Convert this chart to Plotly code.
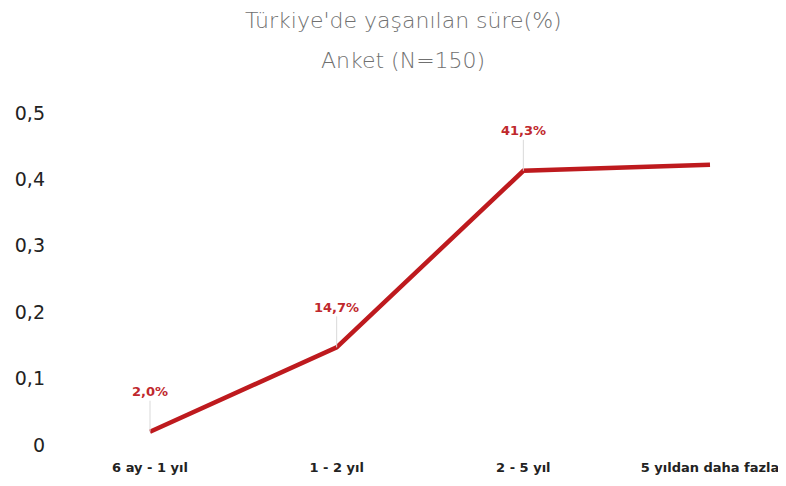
import plotly.graph_objects as go

# Veri
kategoriler = ["6 ay - 1 yıl", "1 - 2 yıl", "2 - 5 yıl", "5 yıldan daha fazla"]
oranlar = [0.020, 0.147, 0.413, 0.422]
etiketler = ["2,0%", "14,7%", "41,3%", ""]
y_ticks = [0, 0.1, 0.2, 0.3, 0.4, 0.5]
y_tick_text = ["0", "0,1", "0,2", "0,3", "0,4", "0,5"]

KIRMIZI = "#BE1A1E"
FONT = "DejaVu Sans"

fig = go.Figure()
fig.add_trace(go.Scatter(
    x=list(range(len(kategoriler))),
    y=oranlar,
    mode="lines",
    line=dict(color=KIRMIZI, width=4.5),
    hoverinfo="skip",
))

# veri etiketleri (ince gri kılavuz çizgisiyle)
for i, (v, t) in enumerate(zip(oranlar, etiketler)):
    if not t:
        continue
    fig.add_annotation(
        x=i, y=v, text="<b>" + t + "</b>",
        showarrow=True, arrowhead=0, arrowwidth=1, arrowcolor="#d9d9d9",
        ax=0, ay=-40,
        font=dict(family=FONT, size=13, color="#C0282D"),
    )

# başlık (iki satır, aralık geniş)
T = 105
for satir, yc in [("Türkiye'de yaşanılan süre(%)", 12), ("Anket (N=150)", 52)]:
    fig.add_annotation(text=satir, xref="paper", yref="paper",
                       x=0.471, y=1, yanchor="middle", showarrow=False,
                       yshift=T - yc,
                       font=dict(family=FONT, size=22, color="#707070", weight=300))

fig.update_layout(
    width=786, height=486,
    margin=dict(l=47, r=0, t=T, b=49),
    plot_bgcolor="white", paper_bgcolor="white",
    showlegend=False,
    font=dict(family=FONT),
    xaxis=dict(
        range=[-0.509, 3.450],
        tickmode="array",
        tickvals=list(range(len(kategoriler))),
        ticktext=["<b>" + k + "</b>" for k in kategoriler],
        tickfont=dict(family=FONT, size=13, color="#222222"),
        showgrid=False, zeroline=False, showline=False,
        ticklabelstandoff=13,
    ),
    yaxis=dict(
        range=[0, 0.5],
        tickmode="array",
        tickvals=y_ticks,
        ticktext=y_tick_text,
        tickfont=dict(family=FONT, size=19, color="#222222"),
        showgrid=False, zeroline=False, showline=False,
        ticklabelstandoff=9,
    ),
)

fig.write_html("out.html")
